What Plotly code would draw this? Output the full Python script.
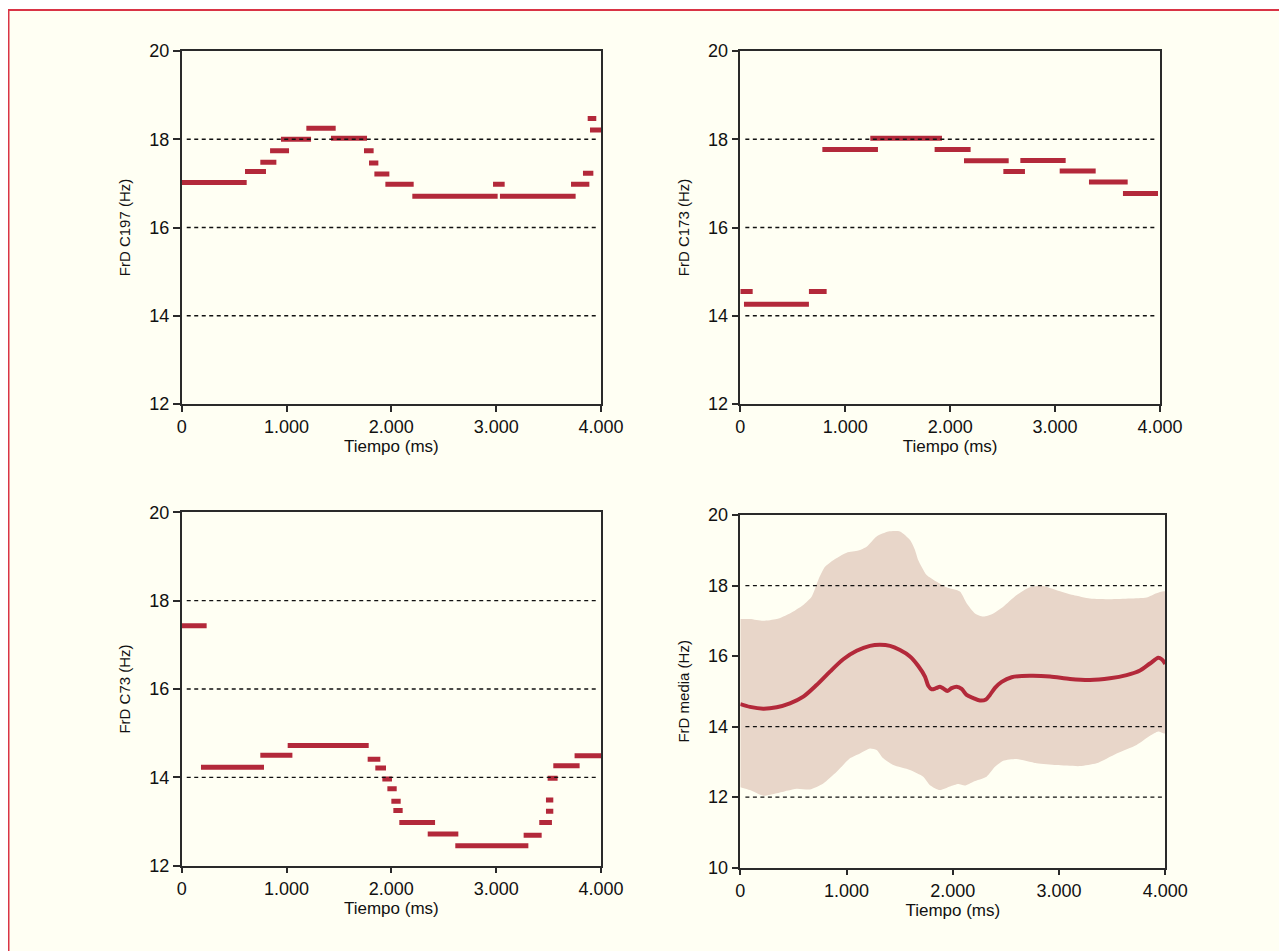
import plotly.graph_objects as go

# ---------------- data ----------------
tick_x_vals = [0, 1000, 2000, 3000, 4000]
tick_x_text = ["0", "1.000", "2.000", "3.000", "4.000"]

# Panel 1: FrD C197 (segments: start ms, end ms, frequency Hz)
c197_start = [0, 604, 750, 843, 947, 1189, 1424, 1739, 1787, 1838, 1943, 2200, 2970, 3036, 3714, 3828, 3873, 3895]
c197_end = [620, 804, 903, 1024, 1234, 1469, 1768, 1831, 1876, 1981, 2213, 3014, 3081, 3758, 3889, 3927, 3955, 4000]
c197_freq = [17.02, 17.27, 17.48, 17.74, 18.00, 18.25, 18.02, 17.74, 17.46, 17.21, 16.98, 16.71, 16.98, 16.71, 16.98, 17.23, 18.47, 18.21]

# Panel 2: FrD C173
c173_start = [0, 35, 654, 782, 1239, 1852, 2132, 2507, 2669, 3044, 3323, 3647]
c173_end = [118, 654, 823, 1312, 1922, 2195, 2558, 2713, 3101, 3387, 3692, 3981]
c173_freq = [14.55, 14.26, 14.55, 17.77, 18.02, 17.77, 17.51, 17.27, 17.52, 17.28, 17.03, 16.77]

# Panel 3: FrD C73
c73_start = [0, 184, 750, 1011, 1774, 1847, 1914, 1962, 2000, 2019, 2076, 2347, 2610, 3262, 3411, 3475, 3475, 3491, 3545, 3748]
c73_end = [238, 785, 1056, 1784, 1895, 1949, 2006, 2051, 2089, 2108, 2417, 2639, 3307, 3434, 3532, 3545, 3545, 3586, 3796, 4000]
c73_freq = [17.43, 14.23, 14.50, 14.72, 14.41, 14.21, 13.96, 13.74, 13.46, 13.25, 12.98, 12.72, 12.45, 12.69, 12.98, 13.23, 13.49, 13.98, 14.26, 14.49]

# Panel 4: FrD media (mean curve and band)
mean_t = [0, 91, 216, 342, 467, 593, 718, 844, 969, 1095, 1220, 1314, 1409, 1503, 1597, 1675, 1738, 1769,
          1801, 1842, 1879, 1911, 1948, 1989, 2036, 2083, 2130, 2193, 2256, 2312, 2350, 2397, 2460, 2554,
          2726, 2915, 3103, 3291, 3479, 3636, 3762, 3856, 3934, 3966, 4000]
mean_f = [14.64, 14.56, 14.51, 14.55, 14.66, 14.85, 15.18, 15.56, 15.91, 16.15, 16.29, 16.32, 16.29, 16.17,
          15.99, 15.72, 15.42, 15.16, 15.06, 15.09, 15.13, 15.08, 15.01, 15.09, 15.13, 15.07, 14.90, 14.81,
          14.74, 14.77, 14.90, 15.10, 15.27, 15.40, 15.44, 15.42, 15.35, 15.32, 15.37, 15.46, 15.59, 15.79,
          15.95, 15.91, 15.78]

upper_t = [0, 91, 216, 342, 467, 593, 671, 734, 797, 875, 1001, 1111, 1189, 1283, 1393, 1503, 1597, 1644,
           1675, 1754, 1848, 1942, 2067, 2130, 2209, 2287, 2381, 2475, 2601, 2726, 2852, 2977, 3134, 3291,
           3479, 3667, 3824, 3918, 4000]
upper_f = [17.05, 17.05, 17.00, 17.05, 17.21, 17.45, 17.68, 18.16, 18.53, 18.72, 18.93, 18.99, 19.10, 19.39,
           19.53, 19.53, 19.29, 19.01, 18.72, 18.30, 18.11, 17.95, 17.83, 17.50, 17.21, 17.12, 17.21, 17.40,
           17.73, 17.95, 17.99, 17.87, 17.73, 17.63, 17.61, 17.63, 17.66, 17.78, 17.83]

lower_t = [0, 91, 216, 342, 530, 656, 781, 907, 1032, 1126, 1220, 1283, 1346, 1440, 1597, 1722, 1785, 1879,
           1973, 2052, 2114, 2193, 2318, 2397, 2475, 2601, 2789, 2977, 3196, 3353, 3542, 3730, 3856, 3934, 4000]
lower_f = [12.28, 12.20, 12.04, 12.11, 12.24, 12.22, 12.39, 12.72, 13.10, 13.24, 13.38, 13.34, 13.10, 12.91,
           12.77, 12.58, 12.34, 12.20, 12.30, 12.37, 12.33, 12.44, 12.58, 12.86, 13.03, 13.08, 12.96, 12.91,
           12.88, 12.96, 13.24, 13.48, 13.74, 13.86, 13.81]

# ---------------- style ----------------
RED = "#b3293a"
BAND = "#e8d6c9"
AXC = "#2a2a2a"
FONT = "Liberation Sans, Arial, sans-serif"
OFF = 8            # page margin before the figure
W, H = 1279, 943   # figure size (reaches the right / bottom edge of the window)


def px_x(p):
    return (p - OFF) / W


def px_y(p):
    return 1 - (p - OFF) / H


def seg_xy(starts, ends, vals):
    xs, ys = [], []
    for a, b, v in zip(starts, ends, vals):
        xs += [a, b, None]
        ys += [v, v, None]
    return xs, ys


fig = go.Figure()

panels = [
    dict(s=c197_start, e=c197_end, v=c197_freq, xa="x", ya="y"),
    dict(s=c173_start, e=c173_end, v=c173_freq, xa="x2", ya="y2"),
    dict(s=c73_start, e=c73_end, v=c73_freq, xa="x3", ya="y3"),
]
for p in panels:
    xs, ys = seg_xy(p["s"], p["e"], p["v"])
    fig.add_trace(go.Scatter(x=xs, y=ys, mode="lines", xaxis=p["xa"], yaxis=p["ya"],
                             line=dict(color=RED, width=5), showlegend=False, hoverinfo="skip"))

band_x = upper_t + lower_t[::-1]
band_y = upper_f + lower_f[::-1]
fig.add_trace(go.Scatter(x=band_x, y=band_y, mode="lines", fill="toself", fillcolor=BAND,
                         line=dict(width=0, color=BAND, shape="spline", smoothing=0.6),
                         xaxis="x4", yaxis="y4", showlegend=False, hoverinfo="skip"))
fig.add_trace(go.Scatter(x=mean_t, y=mean_f, mode="lines",
                         line=dict(color=RED, width=4, shape="spline", smoothing=0.8),
                         xaxis="x4", yaxis="y4", showlegend=False, hoverinfo="skip"))

# ---------------- layout ----------------
dom = {
    1: dict(x=[px_x(181.7), px_x(601)], y=[px_y(404), px_y(51)]),
    2: dict(x=[px_x(740.3), px_x(1160)], y=[px_y(404), px_y(51)]),
    3: dict(x=[px_x(181.7), px_x(601)], y=[px_y(865.7), px_y(512.3)]),
    4: dict(x=[px_x(740.3), px_x(1165.3)], y=[px_y(867.7), px_y(515)]),
}
ytitles = {1: "FrD C197 (Hz)", 2: "FrD C173 (Hz)", 3: "FrD C73 (Hz)", 4: "FrD media (Hz)"}
yranges = {1: [12, 20], 2: [12, 20], 3: [12, 20], 4: [10, 20]}
yticks = {1: [12, 14, 16, 18, 20], 2: [12, 14, 16, 18, 20], 3: [12, 14, 16, 18, 20],
          4: [10, 12, 14, 16, 18, 20]}
grid_levels = {1: [14, 16, 18], 2: [14, 16, 18], 3: [14, 16, 18], 4: [12, 14, 18]}

common = dict(showline=True, linecolor=AXC, linewidth=1.5, mirror=True, ticks="outside",
              tickcolor=AXC, tickwidth=1.5, showgrid=False, zeroline=False, automargin=False,
              tickfont=dict(family=FONT, size=18, color="#111"))

layout = dict(template="none", width=W, height=H, margin=dict(l=0, r=0, t=0, b=0, pad=0, autoexpand=False),
              autosize=False, paper_bgcolor="white", plot_bgcolor="rgba(0,0,0,0)", showlegend=False,
              font=dict(family=FONT, color="#111"))
shapes = [dict(type="rect", xref="paper", yref="paper", x0=0.5 / W, x1=1.02, y0=-0.02, y1=px_y(10),
               fillcolor="#fffff3", line=dict(color="#d93445", width=2), layer="below")]

for i in range(1, 5):
    sfx = "" if i == 1 else str(i)
    layout["xaxis" + sfx] = dict(common, domain=dom[i]["x"], anchor="y" + sfx, range=[0, 4000],
                                 tickvals=tick_x_vals, ticktext=tick_x_text, ticklen=6,
                                 title=dict(text="Tiempo (ms)", font=dict(family=FONT, size=17), standoff=0))
    layout["yaxis" + sfx] = dict(common, domain=dom[i]["y"], anchor="x" + sfx, range=yranges[i],
                                 tickvals=yticks[i], ticklen=7,
                                 title=dict(text=ytitles[i], font=dict(family=FONT, size=15), standoff=15))
    for g in grid_levels[i]:
        shapes.append(dict(type="line", xref="x" + sfx + " domain", yref="y" + sfx,
                           x0=0.012, x1=0.994, y0=g, y1=g,
                           line=dict(color="#111", width=1.3, dash="4px,3.5px"), layer="above"))

layout["shapes"] = shapes
fig.update_layout(**layout)

fig.write_html("out.html", config={"displayModeBar": False, "responsive": False})
